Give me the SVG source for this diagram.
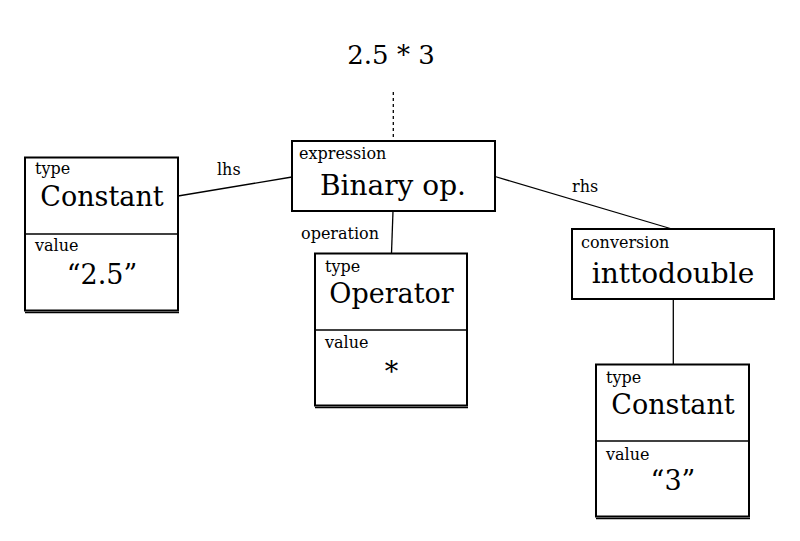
<svg xmlns="http://www.w3.org/2000/svg" width="800" height="541" viewBox="0 0 800 541">
<style>
text{font-family:"DejaVu Serif","Liberation Serif",serif;fill:#000}
.s{font-size:16px}
.b{font-size:27px;text-anchor:middle}
.box{fill:#fff;stroke:#000;stroke-width:2}
.ln{stroke:#000;stroke-width:1.3;fill:none}
</style>
<rect width="800" height="541" fill="#fff"/>
<text x="391" y="64" style="font-size:26px;text-anchor:middle">2.5 * 3</text>
<g id="connectors">
<line class="ln" x1="393.3" y1="92" x2="393.3" y2="141" stroke-dasharray="3,3"/>
<line class="ln" x1="178" y1="196" x2="292" y2="177"/>
<line class="ln" x1="393" y1="211" x2="391.5" y2="253"/>
<line class="ln" x1="495" y1="176.5" x2="672" y2="229"/>
<line class="ln" x1="673.3" y1="299" x2="673.3" y2="364"/>
<text class="s" x="217" y="175">lhs</text>
<text class="s" x="301" y="239">operation</text>
<text class="s" x="572" y="192">rhs</text>
</g>
<g id="binary">
<rect class="box" x="292" y="141" width="203" height="70"/>
<text class="s" x="299" y="159">expression</text>
<text class="b" x="393" y="195" style="font-size:28px">Binary op.</text>
</g>
<g id="const1">
<rect class="box" x="25" y="157.5" width="153" height="153"/>
<line class="ln" x1="25" y1="312.5" x2="179" y2="312.5" stroke-width="1.3"/>
<line class="ln" x1="25" y1="234" x2="178" y2="234"/>
<text class="s" x="35" y="174">type</text>
<text class="b" x="102" y="206">Constant</text>
<text class="s" x="35" y="251">value</text>
<text class="b" x="102" y="284">“2.5”</text>
</g>
<g id="operator">
<rect class="box" x="315" y="253.5" width="152" height="152"/>
<line class="ln" x1="315" y1="407.5" x2="468" y2="407.5"/>
<line class="ln" x1="315" y1="330" x2="467" y2="330"/>
<text class="s" x="325" y="272">type</text>
<text class="b" x="391.5" y="303">Operator</text>
<text class="s" x="325" y="348">value</text>
<text class="b" x="391.5" y="381">*</text>
</g>
<g id="conversion">
<rect class="box" x="572" y="229" width="202" height="70"/>
<text class="s" x="581" y="248">conversion</text>
<text class="b" x="673" y="283" style="font-size:28px">inttodouble</text>
</g>
<g id="const2">
<rect class="box" x="596" y="364.5" width="153" height="152"/>
<line class="ln" x1="596" y1="518.5" x2="750" y2="518.5"/>
<line class="ln" x1="596" y1="441" x2="749" y2="441"/>
<text class="s" x="606" y="383">type</text>
<text class="b" x="673" y="414">Constant</text>
<text class="s" x="606" y="460">value</text>
<text class="b" x="673" y="490">“3”</text>
</g>
</svg>
